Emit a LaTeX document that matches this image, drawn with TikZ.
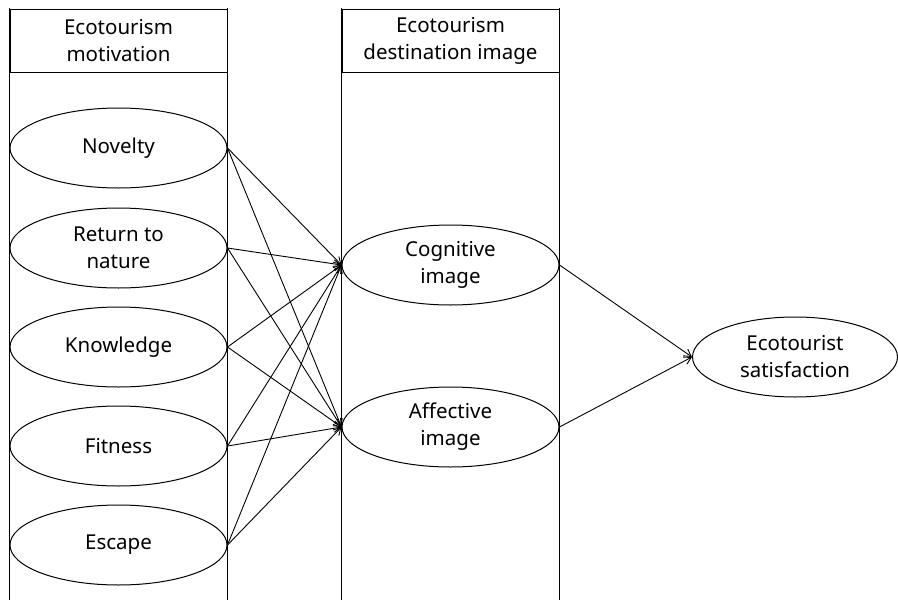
\documentclass[tikz,border=0pt]{standalone}
\usepackage{fontspec}
\setmainfont{Noto Sans}
\usetikzlibrary{shapes.geometric,arrows.meta}
\begin{document}
\begin{tikzpicture}[x=1pt,y=-1pt,
  every node/.style={font=\fontsize{20.5}{27}\selectfont, align=center},
  ell/.style={draw, ellipse, line width=1pt, inner sep=0pt, minimum width=217pt, minimum height=80pt},
  hdr/.style={draw, line width=1pt, inner sep=0pt, minimum width=217pt, minimum height=63pt},
  col/.style={line width=1pt, line cap=rect},
  arr/.style={line width=0.9pt, -{Straight Barb[length=7pt,width=8pt]}}]
\useasboundingbox (0,0) rectangle (898,600);
% headers
\node[hdr] (h1) at (118.5,40.5) {Ecotourism\\motivation};
\node[hdr] (h2) at (450.5,40.5) {Ecotourism\\destination image};
\coordinate (b1l) at (h1.west |- 0,602);
\coordinate (b1r) at (h1.east |- 0,602);
\coordinate (b2l) at (h2.west |- 0,602);
\coordinate (b2r) at (h2.east |- 0,602);
\draw[col] (h1.north west) -- (b1l);
\draw[col] (h1.north east) -- (b1r);
\draw[col] (h2.north west) -- (b2l);
\draw[col] (h2.north east) -- (b2r);
% motivation
\node[ell] (nov) at (118.5,148) {Novelty};
\node[ell] (ret) at (118.5,248) {Return to\\nature};
\node[ell] (kno) at (118.5,347) {Knowledge};
\node[ell] (fit) at (118.5,446) {Fitness};
\node[ell] (esc) at (118.5,545) {Escape};
% image
\node[ell] (cog) at (450.5,265) {Cognitive\\image};
\node[ell] (aff) at (450.5,427) {Affective\\image};
% satisfaction
\node[ell, minimum width=205pt] (sat) at (795,357) {Ecotourist\\satisfaction};
% arrows
\foreach \s in {nov,ret,kno,fit,esc}{
  \draw[arr] (\s.east) -- (cog.west);
  \draw[arr] (\s.east) -- (aff.west);
}
\draw[arr] (cog.east) -- (sat.west);
\draw[arr] (aff.east) -- (sat.west);
\end{tikzpicture}
\end{document}
